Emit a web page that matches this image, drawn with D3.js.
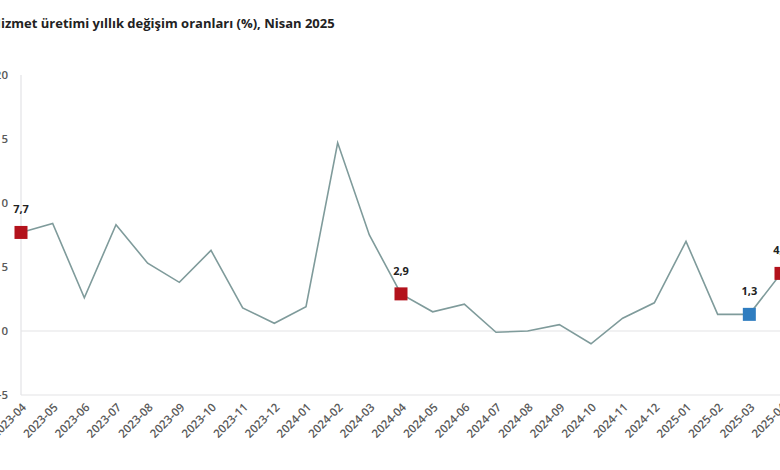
<!DOCTYPE html>
<html>
<head>
<meta charset="utf-8">
<script src="https://cdn.jsdelivr.net/npm/d3@7"></script>
<style>
  body { margin: 0; background: #fff; }
  svg { display: block; font-family: "Open Sans", "Noto Sans", sans-serif; }
</style>
</head>
<body>
<svg id="chart" width="780" height="470"></svg>
<script>
const months = [
  '2023-04', '2023-05', '2023-06', '2023-07', '2023-08', '2023-09', '2023-10',
  '2023-11', '2023-12', '2024-01', '2024-02', '2024-03', '2024-04', '2024-05',
  '2024-06', '2024-07', '2024-08', '2024-09', '2024-10', '2024-11', '2024-12',
  '2025-01', '2025-02', '2025-03', '2025-04'
];
const values = [
  7.7, 8.4, 2.6, 8.3, 5.3, 3.8, 6.3, 1.8, 0.6, 1.9, 14.7, 7.5, 2.9,
  1.5, 2.1, -0.1, 0.0, 0.5, -1.0, 1.0, 2.2, 7.0, 1.3, 1.3, 4.5
];
// highlighted months (same month last year, previous month, current month)
const highlights = [
  { month: '2023-04', kind: 'red' },
  { month: '2024-04', kind: 'red' },
  { month: '2025-03', kind: 'blue' },
  { month: '2025-04', kind: 'red' }
];
const yTicks = [-5, 0, 5, 10, 15, 20];
const title = 'Hizmet üretimi yıllık değişim oranları (%), Nisan 2025';

const color = { red: '#b3121c', blue: '#2f7dc0', line: '#7f9b9b', grid: '#e3e3e6', text: '#222', tick: '#595959' };

const svg = d3.select('#chart');
const data = months.map((m, i) => ({ month: m, value: values[i] }));

const x = d3.scalePoint().domain(months).range([21, 781]);
const y = d3.scaleLinear().domain([-5, 20]).range([395, 75]);

// Title (left part is cut off in the picture)
const t = svg.append('text')
  .attr('y', 28)
  .attr('font-size', 13)
  .attr('font-weight', 700)
  .attr('fill', color.text)
  .text(title);
const probe = svg.append('text').attr('font-size', 13).attr('font-weight', 700).text('H');
const hw = probe.node().getComputedTextLength();
probe.remove();
t.attr('x', 1 - hw);

// Y axis labels
svg.append('g')
  .selectAll('text')
  .data(yTicks)
  .join('text')
  .attr('x', 8)
  .attr('y', (d) => y(d) + 4)
  .attr('text-anchor', 'end')
  .attr('font-size', 11.5)
  .attr('font-weight', 600)
  .attr('fill', color.tick)
  .text((d) => d);

// Axis lines
svg.append('line')
  .attr('x1', x(months[0])).attr('x2', x(months[0]))
  .attr('y1', y(20)).attr('y2', y(-5))
  .attr('stroke', color.grid).attr('stroke-width', 1.2);
svg.append('g')
  .selectAll('line')
  .data([0, -5])
  .join('line')
  .attr('x1', x(months[0])).attr('x2', 780)
  .attr('y1', (d) => y(d)).attr('y2', (d) => y(d))
  .attr('stroke', color.grid).attr('stroke-width', 1.2);

// X tick labels
svg.append('g')
  .selectAll('text')
  .data(months)
  .join('text')
  .attr('transform', (d) => `translate(${x(d) + 6},${y(-5) + 13}) rotate(-45)`)
  .attr('text-anchor', 'end')
  .attr('font-size', 11.5)
  .attr('font-weight', 600)
  .attr('fill', color.tick)
  .text((d) => d);

// Line
const line = d3.line().x((d) => x(d.month)).y((d) => y(d.value));
svg.append('path')
  .datum(data)
  .attr('fill', 'none')
  .attr('stroke', color.line)
  .attr('stroke-width', 1.6)
  .attr('d', line);

// Highlight markers and labels
const hl = highlights.map((h) => ({ ...h, value: values[months.indexOf(h.month)] }));
const size = 13;
svg.append('g')
  .selectAll('rect')
  .data(hl)
  .join('rect')
  .attr('x', (d) => x(d.month) - size / 2)
  .attr('y', (d) => y(d.value) - size / 2)
  .attr('width', size)
  .attr('height', size)
  .attr('fill', (d) => color[d.kind]);

svg.append('g')
  .selectAll('text')
  .data(hl)
  .join('text')
  .attr('x', (d) => x(d.month))
  .attr('y', (d) => y(d.value) - 19)
  .attr('text-anchor', 'middle')
  .attr('font-size', 11)
  .attr('font-weight', 700)
  .attr('fill', color.text)
  .text((d) => d3.format('.1f')(d.value).replace('.', ','));
</script>
</body>
</html>
